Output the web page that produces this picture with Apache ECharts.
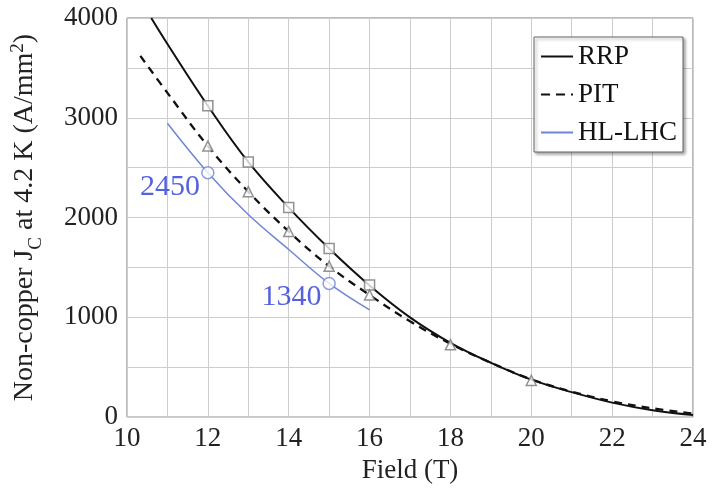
<!DOCTYPE html>
<html><head><meta charset="utf-8">
<script src="https://cdn.jsdelivr.net/npm/echarts@6/dist/echarts.min.js"></script>
<style>html,body{margin:0;padding:0;background:#fff}#c{width:716px;height:489px}</style>
</head><body><div id="c"></div>
<script>
// Curves (field T, Jc A/mm^2)
const rrpCurve = [[10.6,4000],[11,3740],[12,3120],[13,2557],[14,2100],[15,1690],[16,1320],[17,1000],[18,745],[19,545],[20,375],[21,250],[22,145],[23,68],[24,20]];
const pitCurve = [[10.33,3620],[11,3250],[12,2716],[13,2259],[14,1861],[15,1512],[16,1224],[17,960],[18,735],[19,545],[20,378],[21,255],[22,158],[23,88],[24,35]];
const hlCurve = [[11,2945],[12,2450],[13,2030],[14,1680],[15,1340],[16,1075]];
// Measured points
const rrpPoints = [[12,3120],[13,2557],[14,2100],[15,1690],[16,1323]];
const pitPoints = [[12,2716],[13,2259],[14,1861],[15,1512],[16,1224],[18,726],[20,368]];
const hlPoints = [[12,2450],[15,1340]];
const hlLabels = ['2450','1340'];
const xTicks = [10,12,14,16,18,20,22,24];
const yTicks = [0,1000,2000,3000,4000];

const serif = '"Liberation Serif","Times New Roman",serif';
const chart = echarts.init(document.getElementById('c'), null, {renderer:'canvas'});
chart.setOption({
  animation:false,
  grid:{left:127,right:23,top:18,bottom:70,show:true,borderColor:'#777',borderWidth:1},
  legend:{
    right:33, top:37, orient:'vertical', itemGap:11, itemWidth:32, itemHeight:14,
    backgroundColor:'#fff', borderColor:'#666', borderWidth:1, padding:[6,6,6,6],
    shadowColor:'rgba(0,0,0,0.35)', shadowBlur:3, shadowOffsetX:2, shadowOffsetY:2,
    itemStyle:{opacity:0},
    textStyle:{fontFamily:serif,fontSize:27,color:'#111'},
    data:['RRP',{name:'PIT',lineStyle:{type:[9,6]}},'HL-LHC']
  },
  xAxis:{type:'value',min:10,max:24,interval:1,
    name:'Field (T)',nameLocation:'middle',nameGap:38,
    nameTextStyle:{fontFamily:serif,fontSize:27,color:'#222'},
    axisLine:{show:false},axisTick:{show:false},
    axisLabel:{fontFamily:serif,fontSize:27,color:'#222',margin:8,
      formatter:v=>xTicks.includes(v)?String(v):''},
    splitLine:{show:true,lineStyle:{color:'#cdcdcd',width:1}}
  },
  yAxis:{type:'value',min:0,max:4000,interval:500,
    name:'{a|Non-copper J}{sub|C}{a| at 4.2 K (A/mm}{sup|2}{a|)}',
    nameLocation:'middle',nameGap:88,
    nameTextStyle:{fontFamily:serif,fontSize:28,color:'#222',
      rich:{a:{fontFamily:serif,fontSize:28,color:'#222'},
            sub:{fontFamily:serif,fontSize:19,color:'#222',verticalAlign:'bottom',padding:[0,0,-7,0]},
            sup:{fontFamily:serif,fontSize:19,color:'#222',verticalAlign:'top',padding:[-2,0,0,0]}}},
    axisLine:{show:false},axisTick:{show:false},
    axisLabel:{fontFamily:serif,fontSize:27,color:'#222',margin:9,
      formatter:v=>yTicks.includes(v)?String(v):''},
    splitLine:{show:true,lineStyle:{color:'#cdcdcd',width:1}}
  },
  series:[
    {name:'RRP',type:'line',data:rrpCurve,smooth:0.4,symbol:'none',
      lineStyle:{color:'#111',width:2},itemStyle:{color:'#111'},z:3},
    {name:'PIT',type:'line',data:pitCurve,smooth:0.4,symbol:'none',
      lineStyle:{color:'#111',width:2.3,type:[8,6]},itemStyle:{color:'#111'},z:3},
    {name:'HL-LHC',type:'line',data:hlCurve,smooth:0.4,symbol:'none',
      lineStyle:{color:'#6f86d6',width:1.5},itemStyle:{color:'#6f86d6'},z:3},
    {type:'scatter',data:rrpPoints,symbol:'rect',symbolSize:10,
      itemStyle:{color:'#fff',borderColor:'#777',borderWidth:1.5},z:5},
    {type:'scatter',data:pitPoints,symbol:'triangle',symbolSize:10,
      itemStyle:{color:'#fff',borderColor:'#777',borderWidth:1.5},z:5},
    {type:'scatter',data:hlPoints,symbol:'circle',symbolSize:12,
      itemStyle:{color:'#fff',borderColor:'#6f86d6',borderWidth:1.5},z:5,
      label:{show:true,fontFamily:serif,fontSize:30,color:'#2b3bd6',
        formatter:p=>hlLabels[p.dataIndex],position:'left',distance:1,offset:[0,14]}}
  ]
});
</script></body></html>
